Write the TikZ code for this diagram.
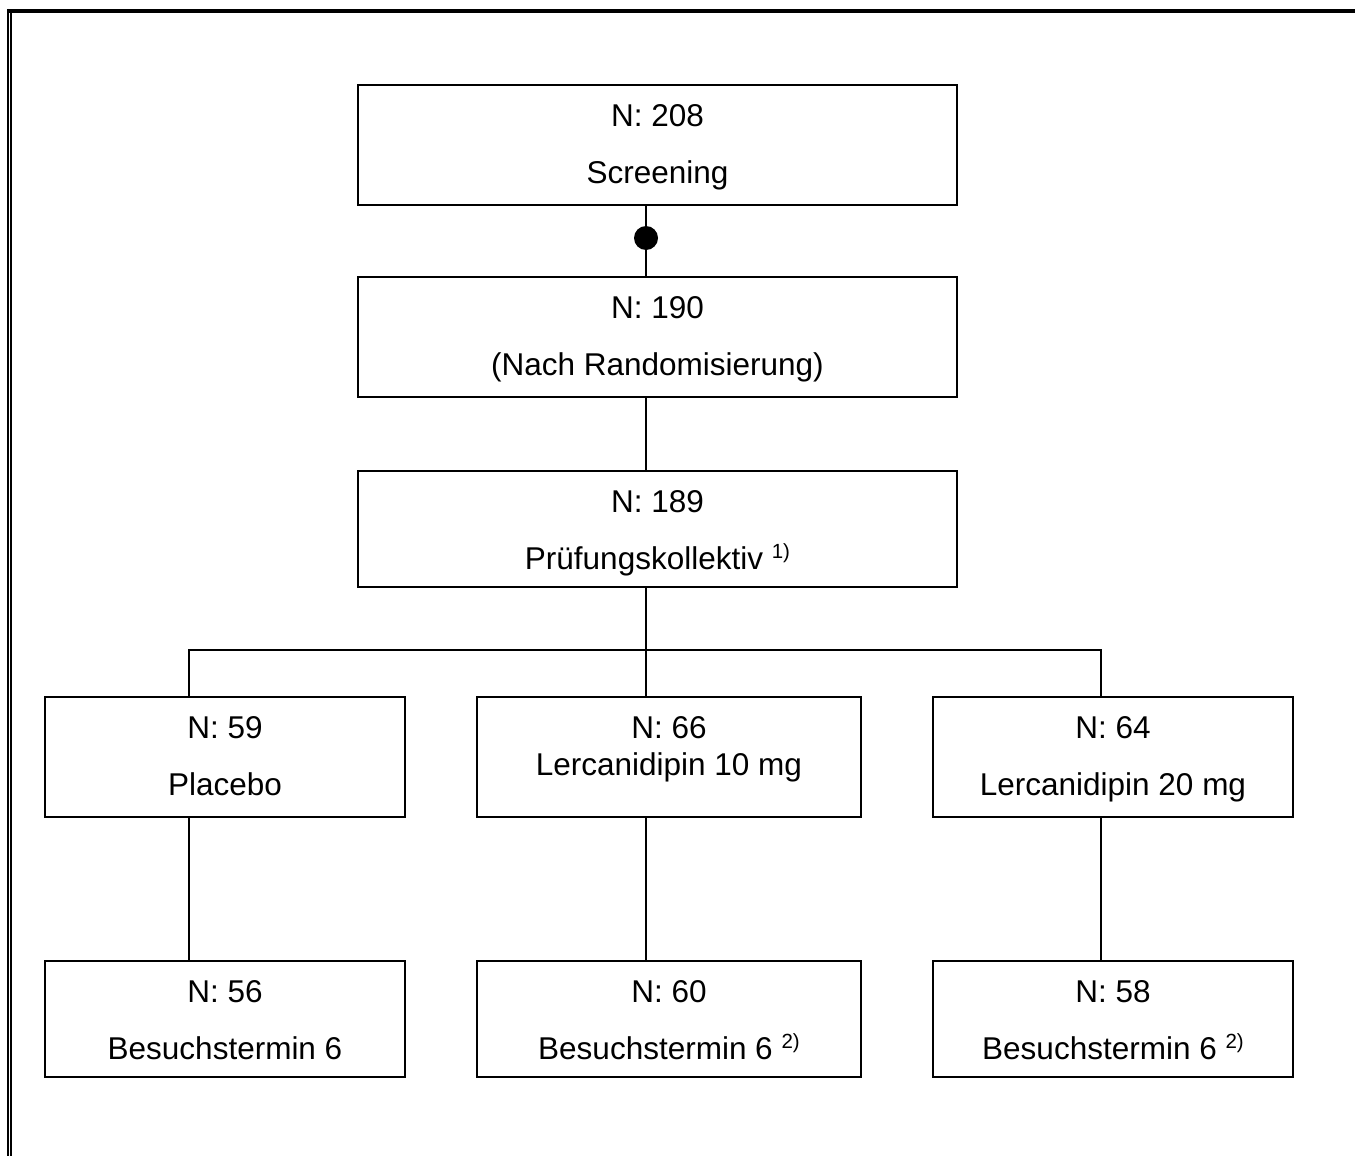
\documentclass[tikz,border=0pt]{standalone}
\usepackage{fontspec}
\setmainfont{Liberation Sans}
\newcommand{\fnmark}[1]{\raisebox{10.5pt}{\fontsize{20.5}{20.5}\selectfont #1}}
\begin{document}
\begin{tikzpicture}[x=1pt,y=-1pt,
  box/.style={draw=black,line width=2pt,rectangle,inner sep=0pt,fill=white},
  lbl/.style={anchor=base,inner sep=0pt,font=\fontsize{31.5}{36}\selectfont},
  conn/.style={draw=black,line width=2pt}]
\useasboundingbox (0,0) rectangle (1355,1156);
\fill[white] (0,0) rectangle (1355,1156);
% frame
\draw[line width=4.5pt] (7,11) -- (1355,11);
\draw[line width=2pt] (8,9) -- (8,1156);
\draw[line width=2pt] (11,13) -- (11,1156);
% column coordinates
\coordinate (colA) at (189,0);
\coordinate (colB) at (646,0);
\coordinate (colC) at (1101,0);
\coordinate (branch) at (646,650);
% boxes
\node[box,minimum width=599pt,minimum height=120pt] (b1) at (657.5,145) {};
\node[box,minimum width=599pt,minimum height=120pt] (b2) at (657.5,337) {};
\node[box,minimum width=599pt,minimum height=116pt] (b3) at (657.5,529) {};
\node[box,minimum width=360pt,minimum height=120pt] (b4) at (225,757) {};
\node[box,minimum width=384pt,minimum height=120pt] (b5) at (669,757) {};
\node[box,minimum width=360pt,minimum height=120pt] (b6) at (1113,757) {};
\node[box,minimum width=360pt,minimum height=116pt] (b7) at (225,1019) {};
\node[box,minimum width=384pt,minimum height=116pt] (b8) at (669,1019) {};
\node[box,minimum width=360pt,minimum height=116pt] (b9) at (1113,1019) {};
% texts
\node[lbl] (t1a) at (657.5,126) {N: 208};
\node[lbl] (t1b) at (657.5,183) {Screening};
\node[lbl] (t2a) at (657.5,318) {N: 190};
\node[lbl] (t2b) at (657.5,375) {(Nach Randomisierung)};
\node[lbl] (t3a) at (657.5,512) {N: 189};
\node[lbl] (t3b) at (657.5,569) {Prüfungskollektiv \fnmark{1)}};
\node[lbl] (t4a) at (225,738) {N: 59};
\node[lbl] (t4b) at (225,795) {Placebo};
\node[lbl] (t5a) at (669,738) {N: 66};
\node[lbl] (t5b) at (669,775) {Lercanidipin 10 mg};
\node[lbl] (t6a) at (1113,738) {N: 64};
\node[lbl] (t6b) at (1113,795) {Lercanidipin 20 mg};
\node[lbl] (t7a) at (225,1002) {N: 56};
\node[lbl] (t7b) at (225,1059) {Besuchstermin 6};
\node[lbl] (t8a) at (669,1002) {N: 60};
\node[lbl] (t8b) at (669,1059) {Besuchstermin 6 \fnmark{2)}};
\node[lbl] (t9a) at (1113,1002) {N: 58};
\node[lbl] (t9b) at (1113,1059) {Besuchstermin 6 \fnmark{2)}};
% connectors
\draw[conn] (b1.south -| colB) -- (b2.north -| colB);
\node[circle,fill=black,inner sep=0pt,minimum size=24pt] (dot) at (646,238) {};
\draw[conn] (b2.south -| colB) -- (b3.north -| colB);
\draw[conn] (b3.south -| colB) -- (branch);
\draw[conn] (b4.north -| colA) |- (branch) -| (b6.north -| colC);
\draw[conn] (branch) -- (b5.north -| colB);
\draw[conn] (b4.south -| colA) -- (b7.north -| colA);
\draw[conn] (b5.south -| colB) -- (b8.north -| colB);
\draw[conn] (b6.south -| colC) -- (b9.north -| colC);
\end{tikzpicture}
\end{document}
